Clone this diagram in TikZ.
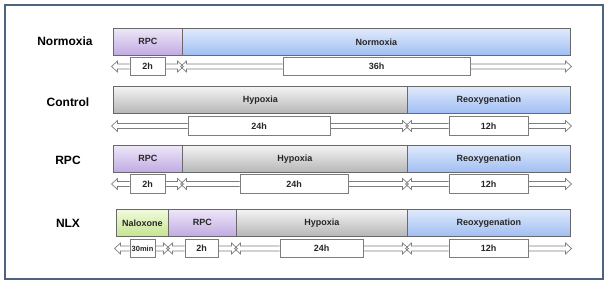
\documentclass[tikz,border=0pt]{standalone}
\usepackage{fontspec}
\setmainfont{Liberation Sans}
\definecolor{framec}{RGB}{79,98,128}
\definecolor{purT}{RGB}{238,231,248}
\definecolor{purB}{RGB}{192,170,226}
\definecolor{bluT}{RGB}{224,234,252}
\definecolor{bluB}{RGB}{160,190,243}
\definecolor{gryT}{RGB}{244,244,244}
\definecolor{gryB}{RGB}{182,182,182}
\definecolor{grnT}{RGB}{242,250,220}
\definecolor{grnB}{RGB}{196,229,146}
\definecolor{edgec}{RGB}{105,105,105}
\definecolor{arrc}{RGB}{125,125,125}
\tikzset{
  bar/.style={draw=edgec, line width=0.7pt, minimum height=27pt, inner sep=0pt,
    anchor=north west, font=\bfseries\fontsize{9}{10}\selectfont, text=black!85},
  rpcbar/.style={bar, top color=purT, bottom color=purB},
  blubar/.style={bar, top color=bluT, bottom color=bluB},
  grybar/.style={bar, top color=gryT, bottom color=gryB},
  grnbar/.style={bar, top color=grnT, bottom color=grnB},
  rowlabel/.style={font=\bfseries\fontsize{12}{14}\selectfont},
  tbox/.style={draw=arrc, fill=white, line width=0.7pt, minimum height=18.5pt,
    inner sep=0pt, font=\bfseries\fontsize{9}{10}\selectfont, text=black!85},
  arrowline/.style={draw=arrc, line width=0.7pt, line join=miter}
}
% #1 x1, #2 x2, #3 yc, #4 bx1, #5 bx2, #6 name, #7 text
\newcommand\timeseg[7]{%
  \pgfmathsetmacro\bw{#5-#4}%
  \pgfmathsetmacro\bc{(#4+#5)/2}%
  \node[tbox, minimum width=\bw pt] (#6) at (\bc,#3) {#7};
  \coordinate (#6-l) at (#1-1.5,#3);
  \coordinate (#6-r) at (#2+1.5,#3);
  \draw[arrowline] ([yshift=2.5pt]#6.west) -- (#1+4.5,#3-2.5) -- (#1+4.5,#3-5.5)
     -- (#6-l) -- (#1+4.5,#3+5.5) -- (#1+4.5,#3+2.5) -- ([yshift=-2.5pt]#6.west);
  \draw[arrowline] ([yshift=2.5pt]#6.east) -- (#2-4.5,#3-2.5) -- (#2-4.5,#3-5.5)
     -- (#6-r) -- (#2-4.5,#3+5.5) -- (#2-4.5,#3+2.5) -- ([yshift=-2.5pt]#6.east);
}
\begin{document}
\begin{tikzpicture}[x=1pt, y=-1pt]
\useasboundingbox (0,0) rectangle (609,286);
\fill[white] (0,0) rectangle (609,286);
\draw[framec, line width=1.8pt] (5,5) rectangle (603,279);

% row labels
\node[rowlabel] (l1) at (65,41.5) {Normoxia};
\node[rowlabel] (l2) at (68,102) {Control};
\node[rowlabel] (l3) at (68,160) {RPC};
\node[rowlabel] (l4) at (68,223) {NLX};

% row 1
\node[rpcbar, minimum width=69pt] (r1a) at (113,28) {RPC};
\node[blubar, minimum width=388pt] (r1b) at (182,28) {Normoxia};
\timeseg{113}{182}{66.5}{130}{165}{t1a}{2h}
\timeseg{182}{570}{66.5}{283}{470}{t1b}{36h}

% row 2
\node[grybar, minimum width=294pt] (r2a) at (113,86) {Hypoxia};
\node[blubar, minimum width=163pt] (r2b) at (407,86) {Reoxygenation};
\timeseg{113}{407}{126}{188}{330}{t2a}{24h}
\timeseg{407}{570}{126}{449}{528}{t2b}{12h}

% row 3
\node[rpcbar, minimum width=69pt] (r3a) at (113,145) {RPC};
\node[grybar, minimum width=225pt] (r3b) at (182,145) {Hypoxia};
\node[blubar, minimum width=163pt] (r3c) at (407,145) {Reoxygenation};
\timeseg{113}{182}{184}{130}{165}{t3a}{2h}
\timeseg{182}{407}{184}{240}{348}{t3b}{24h}
\timeseg{407}{570}{184}{449}{528}{t3c}{12h}

% row 4
\node[grnbar, minimum width=52pt] (r4a) at (116,209) {Naloxone};
\node[rpcbar, minimum width=68pt] (r4b) at (168,209) {RPC};
\node[grybar, minimum width=171pt] (r4c) at (236,209) {Hypoxia};
\node[blubar, minimum width=163pt] (r4d) at (407,209) {Reoxygenation};
\timeseg{116}{168}{248.5}{130}{155}{t4a}{\fontsize{7.5}{8}\selectfont 30min}
\timeseg{168}{236}{248.5}{185}{218}{t4b}{2h}
\timeseg{236}{407}{248.5}{280}{363}{t4c}{24h}
\timeseg{407}{570}{248.5}{449}{528}{t4d}{12h}
\end{tikzpicture}
\end{document}
